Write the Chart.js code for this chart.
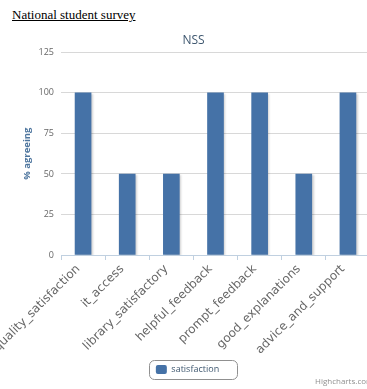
<!DOCTYPE html>
<html>
<head>
<meta charset="utf-8">
<script src="https://cdn.jsdelivr.net/npm/chart.js@4.4.1/dist/chart.umd.min.js"></script>
<style>
  html, body { margin: 0; padding: 0; background: #fff; width: 367px; height: 389px; overflow: hidden; }
  h3 {
    position: absolute; left: 12px; top: 7px; margin: 0;
    font: normal 13px/15px "Liberation Serif", "Times New Roman", serif;
    text-decoration: underline; color: #000;
  }
  .chart-box { position: absolute; left: 0; top: 26px; width: 388px; height: 363px; }
  .credits {
    position: absolute; left: 315px; top: 376px;
    font: 8px/10px "Open Sans", sans-serif; color: #909090; white-space: nowrap;
  }
</style>
</head>
<body>
<h3>National student survey</h3>
<div class="chart-box"><canvas id="nss"></canvas></div>
<div class="credits">Highcharts.com</div>
<script>
const categories = [
  "quality_satisfaction", "it_access", "library_satisfactory", "helpful_feedback",
  "prompt_feedback", "good_explanations", "advice_and_support"
];
const satisfaction = [100, 50, 50, 100, 100, 50, 100];
const yTicks = [0, 25, 50, 75, 100, 125];

// highcharts-ish column shadow
const barShadow = {
  id: "barShadow",
  beforeDatasetsDraw(chart) {
    const ctx = chart.ctx;
    ctx.save();
    ctx.shadowColor = "rgba(0,0,0,0.18)";
    ctx.shadowOffsetX = 1.5;
    ctx.shadowOffsetY = 1;
    ctx.shadowBlur = 2;
  },
  afterDatasetsDraw(chart) {
    chart.ctx.restore();
  }
};

// rounded frame round the legend, content sits a bit left of centre
const legendFrame = {
  id: "legendFrame",
  afterLayout(chart) {
    chart.legend.left -= 6;
    chart.legend.right -= 6;
  },
  afterDraw(chart) {
    const hb = chart.legend.legendHitBoxes[0];
    if (!hb) return;
    const ctx = chart.ctx;
    const cy = hb.top + hb.height / 2;
    const x0 = hb.left - 7, x1 = hb.left + hb.width + 18;
    ctx.save();
    ctx.strokeStyle = "#909090";
    ctx.lineWidth = 1;
    ctx.beginPath();
    ctx.roundRect(Math.round(x0) + 0.5, Math.round(cy - 9.5) + 0.5, Math.round(x1 - x0), 19, 5);
    ctx.stroke();
    ctx.restore();
  }
};

new Chart(document.getElementById("nss"), {
  type: "bar",
  data: {
    labels: categories,
    datasets: [{
      label: "satisfaction",
      data: satisfaction,
      backgroundColor: "#4572A7",
      borderWidth: 0,
      barThickness: 16
    }]
  },
  options: {
    responsive: true,
    maintainAspectRatio: false,
    animation: false,
    layout: { padding: { left: 17, right: 18, top: 0, bottom: 5 } },
    plugins: {
      title: {
        display: true,
        text: "NSS",
        color: "#3E576F",
        font: { family: "Open Sans", size: 12, weight: "normal" },
        padding: { top: 7, bottom: 5 }
      },
      legend: {
        position: "bottom",
        labels: {
          color: "#3E576F",
          font: { family: "Open Sans", size: 9 },
          boxWidth: 11,
          boxHeight: 9,
          useBorderRadius: true,
          borderRadius: 2,
          padding: 10
        }
      },
      tooltip: { enabled: false }
    },
    scales: {
      x: {
        grid: { drawOnChartArea: false, drawTicks: true, tickLength: 5, color: "#C0D0E0", offset: true },
        border: { color: "#C0D0E0" },
        ticks: {
          autoSkip: false,
          minRotation: 45,
          maxRotation: 45,
          padding: 2,
          labelOffset: -5,
          color: "#666",
          font: { family: "DejaVu Sans", size: 12 }
        },
        afterFit(s) {
          s.paddingLeft = 0;
          s.paddingRight = 0;
          s.height = 100;
        }
      },
      y: {
        min: 0,
        max: 125,
        afterBuildTicks(s) { s.ticks = yTicks.map(v => ({ value: v })); },
        grid: { color: "#D8D8D8", drawTicks: false },
        border: { display: false },
        ticks: { padding: 7, color: "#666", font: { family: "Open Sans", size: 9 } },
        title: {
          display: true,
          text: "% agreeing",
          color: "#4d759e",
          font: { family: "Open Sans", size: 9.5, weight: "bold" },
          padding: { top: 5, bottom: 0 }
        },
        afterFit(s) { s.width = 44; }
      }
    }
  },
  plugins: [barShadow, legendFrame]
});
</script>
</body>
</html>
